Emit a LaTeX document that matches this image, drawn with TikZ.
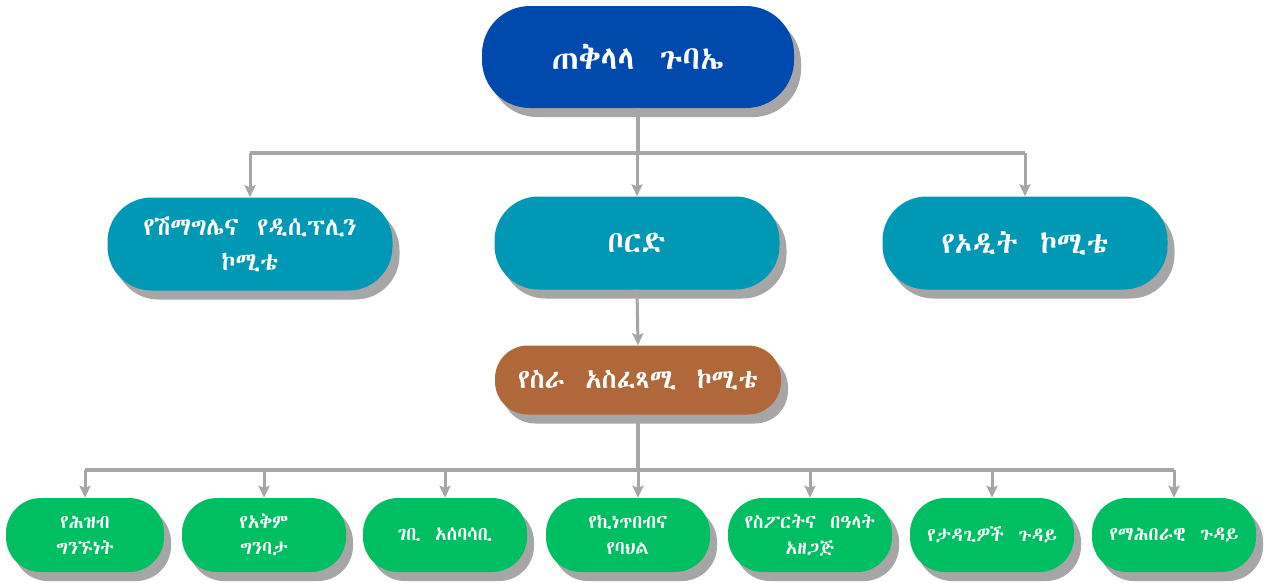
\documentclass[tikz,border=0pt]{standalone}
\usepackage{fontspec}
\IfFontExistsTF{Abyssinica SIL}{\newfontfamily\ethfont{Abyssinica SIL}}{%
  \IfFontExistsTF{FreeSerif}{\newfontfamily\ethfont{FreeSerif}}{%
    \newfontfamily\ethfont{DejaVu Sans}}}
\usetikzlibrary{positioning, shadows, arrows.meta}

\definecolor{genblue}{RGB}{0,74,173}
\definecolor{comteal}{RGB}{0,152,180}
\definecolor{execbrown}{RGB}{176,103,58}
\definecolor{deptgreen}{RGB}{0,191,99}
\definecolor{linegray}{RGB}{166,166,166}

\newcommand{\wsp}{~\hspace{0.3em}}

\tikzset{
  unit/.style={rectangle, rounded corners=#1, text=white, align=center, inner sep=0pt,
    drop shadow={shadow xshift=7pt, shadow yshift=-9pt, fill=linegray, opacity=1}},
  genbox/.style={unit=48pt, fill=genblue, minimum width=312pt, minimum height=102pt,
    font=\ethfont\fontsize{33}{38}\selectfont},
  combox/.style={unit=44pt, fill=comteal, minimum width=285pt, minimum height=93pt,
    font=\ethfont\fontsize{25}{35}\selectfont},
  execbox/.style={unit=33pt, fill=execbrown, minimum width=286pt, minimum height=69pt,
    font=\ethfont\fontsize{27}{30}\selectfont},
  deptbox/.style={unit=35pt, fill=deptgreen, minimum width=164pt, minimum height=74pt,
    font=\ethfont\fontsize{19}{26}\selectfont},
  bar/.style={draw=linegray, line width=3.5pt},
  link/.style={draw=linegray, line width=3pt, -{Stealth[length=12pt, width=11pt, inset=2pt]}}
}

\begin{document}
\begin{tikzpicture}[x=1pt, y=-1pt]
  \useasboundingbox (0,0) rectangle (1265,582);

  % levels
  \node (gen) [genbox] at (638,57) {ጠቅላላ\wsp ጉባኤ};

  \node (elders) [combox] at (250,244) {የሽማግሌና\wsp የዲሲፕሊን\\ኮሚቴ};
  \node (board)  [combox, font=\ethfont\fontsize{30}{35}\selectfont] at (637,243) {ቦርድ};
  \node (audit)  [combox, font=\ethfont\fontsize{30}{35}\selectfont] at (1025,243) {የኦዲት\wsp ኮሚቴ};

  \node (exec) [execbox] at (638,380) {የስራ\wsp አስፈጻሚ\wsp ኮሚቴ};

  \node (pr)      [deptbox, minimum width=158pt] at (85,535) {የሕዝብ\\ግንኙነት};
  \node (cap)     [deptbox] at (264,535) {የአቅም\\ግንባታ};
  \node (fund)    [deptbox] at (445,535) {ገቢ\wsp አሰባሳቢ};
  \node (art)     [deptbox] at (628,535) {የኪነጥበብና\\የባህል};
  \node (sport)   [deptbox] at (810,535) {የስፖርትና\wsp በዓላት\\አዘጋጅ};
  \node (youth)   [deptbox] at (992,535) {የታዳጊዎች\wsp ጉዳይ};
  \node (social)  [deptbox] at (1174,535) {የማሕበራዊ\wsp ጉዳይ};

  % upper connectors
  \coordinate (busA) at (638,153);
  \draw[bar] (gen.south) -- (busA);
  \draw[bar] (busA -| elders.north) -- (busA -| audit.north);
  \foreach \n in {elders, board, audit}
    \draw[link] (busA -| \n.north) -- (\n.north);
  \draw[link] (board.south) -- (exec.north);

  % lower connectors
  \coordinate (busB) at (638,470);
  \draw[bar] (exec.south) -- (busB);
  \draw[bar] (busB -| pr.north) -- (busB -| social.north);
  \foreach \n in {pr, cap, fund, sport, youth, social}
    \draw[link] (busB -| \n.north) -- (\n.north);
  \draw[link] (busB) -- (exec.south |- art.north);
\end{tikzpicture}
\end{document}
